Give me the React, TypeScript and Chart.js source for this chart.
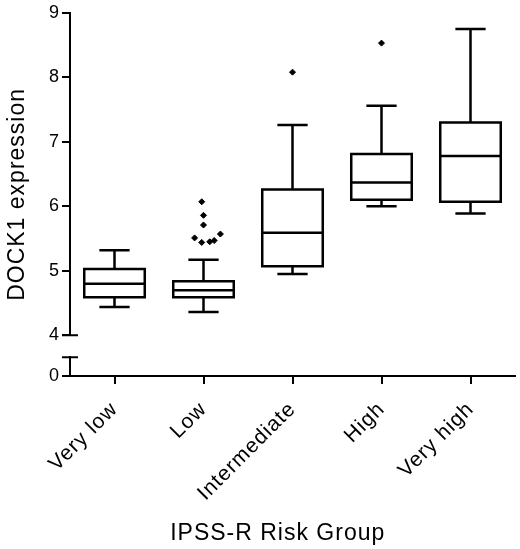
import React, { useEffect, useRef } from 'react';
import { Chart, registerables } from 'chart.js';

Chart.register(...registerables);

// ---- data ----
const categories = ['Very low', 'Low', 'Intermediate', 'High', 'Very high'];
const whiskerLow = [4.44, 4.36, 4.95, 6.0, 5.89];
const quartile1 = [4.59, 4.59, 5.07, 6.1, 6.07];
const medians = [4.8, 4.7, 5.59, 6.37, 6.78];
const quartile3 = [5.03, 4.84, 6.26, 6.81, 7.3];
const whiskerHigh = [5.32, 5.17, 7.26, 7.56, 8.75];

const outlierGroup = [1, 1, 1, 1, 1, 1, 1, 1, 2, 3];
const outlierJitter = [-0.02, 0, 0, -0.1, -0.02, 0.07, 0.12, 0.19, 0, 0];
const outlierValue = [6.07, 5.86, 5.71, 5.51, 5.44, 5.45, 5.47, 5.57, 8.08, 8.53];

const upperTicks = [4, 5, 6, 7, 8, 9];
const lowerTicks = [0];

const xTitle = 'IPSS-R Risk Group';
const yTitle = 'DOCK1 expression';

// ---- style ----
const FONT = "Arial, 'Liberation Sans', sans-serif";
const BOX_WIDTH = 0.68;
const CAP_WIDTH = 0.34;

export default function App() {
  const ref = useRef<HTMLCanvasElement | null>(null);

  useEffect(() => {
    document.body.style.margin = '0';
    const canvas = ref.current;
    if (!canvas) return;

    const spacingPlugin = {
      id: 'spacing',
      beforeLayout(chart: any) {
        chart.ctx.letterSpacing = '1px';
      },
      beforeDraw(chart: any) {
        chart.ctx.letterSpacing = '1px';
      },
    };

    const boxPlugin = {
      id: 'boxes',
      afterDatasetsDraw(chart: any) {
        const { ctx, scales } = chart;
        const xs = scales.x;
        const ys = scales.y;
        const y0 = scales.y0;
        const unit = xs.getPixelForValue(1) - xs.getPixelForValue(0);
        ctx.save();
        ctx.strokeStyle = '#000';
        ctx.lineWidth = 2.5;
        ctx.lineCap = 'butt';
        ctx.lineJoin = 'miter';
        categories.forEach((_, i) => {
          const cx = xs.getPixelForValue(i);
          const hw = (unit * BOX_WIDTH) / 2;
          const cw = (unit * CAP_WIDTH) / 2;
          const pLo = ys.getPixelForValue(whiskerLow[i]);
          const pQ1 = ys.getPixelForValue(quartile1[i]);
          const pMed = ys.getPixelForValue(medians[i]);
          const pQ3 = ys.getPixelForValue(quartile3[i]);
          const pHi = ys.getPixelForValue(whiskerHigh[i]);
          ctx.beginPath();
          ctx.rect(cx - hw, pQ3, 2 * hw, pQ1 - pQ3);
          ctx.moveTo(cx - hw, pMed);
          ctx.lineTo(cx + hw, pMed);
          ctx.moveTo(cx, pQ3);
          ctx.lineTo(cx, pHi);
          ctx.moveTo(cx - cw, pHi);
          ctx.lineTo(cx + cw, pHi);
          ctx.moveTo(cx, pQ1);
          ctx.lineTo(cx, pLo);
          ctx.moveTo(cx - cw, pLo);
          ctx.lineTo(cx + cw, pLo);
          ctx.stroke();
        });
        // axis break caps
        const ax = ys.right;
        ctx.lineWidth = 2;
        const c1 = ys.getPixelForValue(ys.min);
        const c2 = y0.getPixelForValue(y0.max);
        ctx.beginPath();
        ctx.moveTo(ax - 8, c1);
        ctx.lineTo(ax + 8, c1);
        ctx.moveTo(ax - 8, c2);
        ctx.lineTo(ax + 8, c2);
        ctx.stroke();
        ctx.restore();
      },
    };

    const axisGrid = {
      display: true,
      drawOnChartArea: false,
      drawTicks: true,
      tickLength: 8,
      tickWidth: 2,
      color: '#000',
      lineWidth: 2,
    };

    const chart = new Chart(canvas, {
      type: 'scatter',
      data: {
        datasets: [
          {
            data: outlierValue.map((v, k) => ({ x: outlierGroup[k] + outlierJitter[k], y: v })),
            xAxisID: 'x',
            yAxisID: 'y',
            backgroundColor: '#000',
            borderColor: '#000',
            pointRadius: 3,
            pointStyle: 'rectRot',
            showLine: false,
          },
        ],
      },
      options: {
        animation: false,
        responsive: true,
        maintainAspectRatio: false,
        layout: { padding: { left: 0, right: 0, top: 0, bottom: 0 } },
        plugins: {
          legend: { display: false },
          tooltip: { enabled: false },
        },
        events: [],
        scales: {
          x: {
            type: 'linear',
            position: 'bottom',
            min: -0.5,
            max: 4.5,
            afterBuildTicks: (s: any) => {
              s.ticks = categories.map((_, i) => ({ value: i }));
            },
            afterFit: (s: any) => {
              s.height = 173;
            },
            grid: axisGrid,
            border: { display: true, color: '#000', width: 2 },
            ticks: {
              autoSkip: false,
              minRotation: 45,
              maxRotation: 45,
              padding: 13,
              color: '#000',
              font: { family: FONT, size: 21 },
              callback: (v: any) => categories[v as number],
            },
            title: {
              display: true,
              text: xTitle + '    ',
              color: '#000',
              font: { family: FONT, size: 23 },
              padding: { top: 0, bottom: 2 },
            },
          },
          yt: {
            type: 'linear',
            position: 'left',
            weight: 10,
            min: 0,
            max: 1,
            afterFit: (s: any) => {
              s.width = 34;
            },
            grid: { display: false },
            border: { display: false },
            ticks: { display: false },
            title: {
              display: true,
              text: yTitle,
              color: '#000',
              font: { family: FONT, size: 23 },
              padding: { top: 4, bottom: 3 },
            },
          },
          y: {
            type: 'linear',
            position: 'left',
            stack: 'left',
            stackWeight: 325,
            weight: 3,
            min: 4,
            max: 9,
            afterBuildTicks: (s: any) => {
              s.ticks = upperTicks.map((v) => ({ value: v }));
            },
            afterFit: (s: any) => {
              s.width = 36;
            },
            grid: axisGrid,
            border: { display: true, color: '#000', width: 2 },
            ticks: {
              padding: 2,
              color: '#000',
              font: { family: FONT, size: 18 },
            },
          },
          gap: {
            type: 'linear',
            position: 'left',
            stack: 'left',
            stackWeight: 22,
            weight: 2,
            min: 0,
            max: 1,
            afterFit: (s: any) => {
              s.width = 36;
            },
            grid: { display: false },
            border: { display: false },
            ticks: { display: false },
          },
          y0: {
            type: 'linear',
            position: 'left',
            stack: 'left',
            stackWeight: 19,
            weight: 1,
            min: 0,
            max: 1,
            afterBuildTicks: (s: any) => {
              s.ticks = lowerTicks.map((v) => ({ value: v }));
            },
            afterFit: (s: any) => {
              s.width = 36;
            },
            grid: axisGrid,
            border: { display: true, color: '#000', width: 2 },
            ticks: {
              padding: 2,
              color: '#000',
              font: { family: FONT, size: 18 },
            },
          },
        },
      } as any,
      plugins: [spacingPlugin, boxPlugin],
    });

    return () => chart.destroy();
  }, []);

  return (
    <div style={{ position: 'absolute', left: 0, top: 0, width: 520, height: 549, background: '#fff' }}>
      <canvas ref={ref} />
    </div>
  );
}
